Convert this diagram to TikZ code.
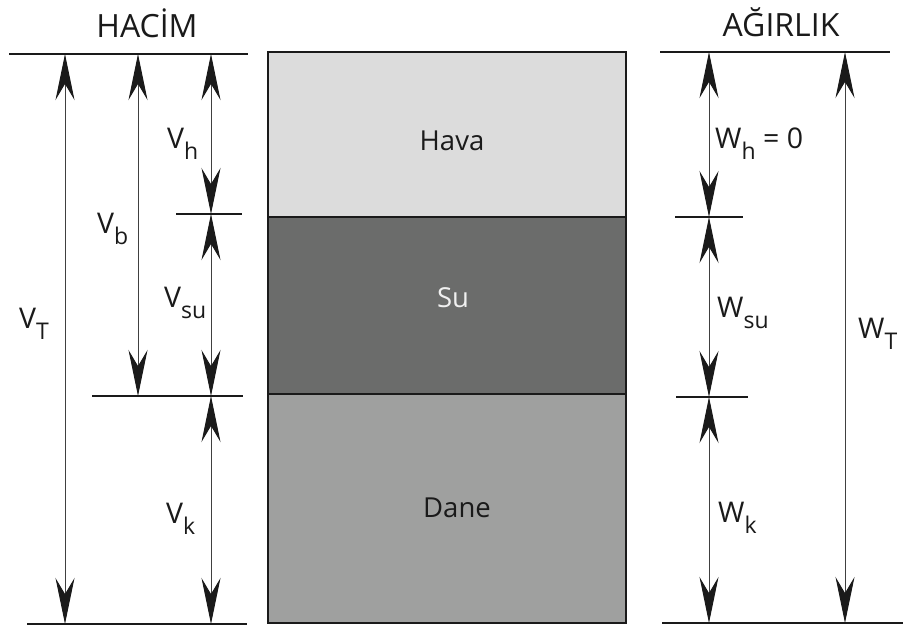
\documentclass[tikz,border=0pt]{standalone}
\usepackage{fontspec}
\setmainfont{Open Sans}
\usetikzlibrary{arrows.meta}
\definecolor{ink}{HTML}{1A1A1A}
\definecolor{shaft}{HTML}{404040}
\definecolor{havac}{HTML}{DCDCDC}
\definecolor{suc}{HTML}{6B6C6B}
\definecolor{danec}{HTML}{9FA09F}
\newcommand\lowsub[1]{\raisebox{-11pt}{\fontsize{23}{23}\selectfont #1}}
\tikzset{
  lbl/.style={inner sep=0pt, anchor=base west, text=ink, font=\fontsize{28.5}{28.5}\selectfont},
  ttl/.style={inner sep=0pt, anchor=base, text=ink, font=\fontsize{32}{32}\selectfont},
  boxlbl/.style={inner sep=0pt, anchor=base, font=\fontsize{27.5}{27.5}\selectfont},
  hline/.style={draw=ink, line width=2pt},
  dim/.style={draw=shaft, line width=1pt,
    {Stealth[length=46pt,width=19pt,inset=16pt,color=ink]}-{Stealth[length=46pt,width=19pt,inset=16pt,color=ink]}},
  layer/.style={draw=ink, line width=2.5pt},
}
\begin{document}
\begin{tikzpicture}[x=1pt,y=-1pt]
\useasboundingbox (0,0) rectangle (903,630);
\clip (0,0) rectangle (903,630);
\fill[white] (0,0) rectangle (903,630);

% box layers
\filldraw[layer, fill=havac] (268,52) rectangle (626,217);
\filldraw[layer, fill=suc] (268,217) rectangle (626,394);
\filldraw[layer, fill=danec] (268,394) rectangle (626,623);
\node[boxlbl, text=ink] (hava) at (452,150) {Hava};
\node[boxlbl, text=white!94!black] (su) at (453,307) {Su};
\node[boxlbl, text=ink] (dane) at (457,517) {Dane};

% titles
\node[ttl] (hacim) at (147,37) {HACİM};
\node[ttl] (agirlik) at (781,36) {AĞIRLIK};

% left reference lines
\coordinate (Lt1) at (9,54);   \coordinate (Lt2) at (248,54);
\coordinate (Lm1) at (176,214); \coordinate (Lm2) at (242,214);
\coordinate (Ls1) at (92,396);  \coordinate (Ls2) at (243,396);
\coordinate (Lb1) at (27,624);  \coordinate (Lb2) at (247,624);
\draw[hline] (Lt1) -- (Lt2);
\draw[hline] (Lm1) -- (Lm2);
\draw[hline] (Ls1) -- (Ls2);
\draw[hline] (Lb1) -- (Lb2);

% left dimension endpoints
\coordinate (VTa) at (65,54);  \coordinate (VTb) at (65,624);
\coordinate (Vba) at (138,54); \coordinate (Vbb) at (138,396);
\coordinate (Vha) at (211,54); \coordinate (Vhb) at (211,214);
\coordinate (Vsb) at (211,396);
\coordinate (Vkb) at (211,624);
\draw[dim] (VTa) -- (VTb);
\draw[dim] (Vba) -- (Vbb);
\draw[dim] (Vha) -- (Vhb);
\draw[dim] (Vhb) -- (Vsb);
\draw[dim] (Vsb) -- (Vkb);

% right reference lines
\coordinate (Rt1) at (660,52);  \coordinate (Rt2) at (890,52);
\coordinate (Rm1) at (675,217); \coordinate (Rm2) at (743,217);
\coordinate (Rs1) at (676,397); \coordinate (Rs2) at (748,397);
\coordinate (Rb1) at (662,623); \coordinate (Rb2) at (903,623);
\draw[hline] (Rt1) -- (Rt2);
\draw[hline] (Rm1) -- (Rm2);
\draw[hline] (Rs1) -- (Rs2);
\draw[hline] (Rb1) -- (Rb2);

\coordinate (Wha) at (709,52);  \coordinate (Whb) at (709,217);
\coordinate (Wsb) at (709,397); \coordinate (Wkb) at (709,623);
\coordinate (WTa) at (845,52);  \coordinate (WTb) at (845,623);
\draw[dim] (Wha) -- (Whb);
\draw[dim] (Whb) -- (Wsb);
\draw[dim] (Wsb) -- (Wkb);
\draw[dim] (WTa) -- (WTb);

% labels
\node[lbl] (lVh) at (167,148) {V\lowsub{h}};
\node[lbl] (lVb) at (97,233) {V\lowsub{b}};
\node[lbl] (lVT) at (19,328) {V\lowsub{T}};
\node[lbl] (lVsu) at (164,307) {V\lowsub{su}};
\node[lbl] (lVk) at (166,523) {V\lowsub{k}};
\node[lbl] (lWh) at (715,148) {W\lowsub{h} = 0};
\node[lbl] (lWsu) at (717,317) {W\lowsub{su}};
\node[lbl] (lWT) at (858,338) {W\lowsub{T}};
\node[lbl] (lWk) at (718,522) {W\lowsub{k}};
\end{tikzpicture}
\end{document}
